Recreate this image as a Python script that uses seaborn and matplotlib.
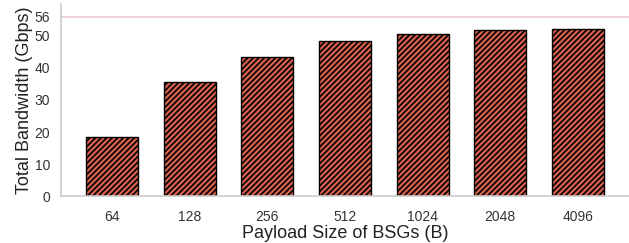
import pandas as pd
import matplotlib.pyplot as plt
import seaborn as sns

# Bandwidth per payload size
payload_sizes = ['64', '128', '256', '512', '1024', '2048', '4096']
bandwidth = [18.3, 35.5, 43.4, 48.3, 50.7, 51.9, 52.2]
line_rate = 56

df = pd.DataFrame({'size': payload_sizes, 'bw': bandwidth})

sns.set_style('white')
plt.rcParams['font.family'] = ['Liberation Sans', 'DejaVu Sans']
plt.rcParams['hatch.linewidth'] = 1.2

fig, ax = plt.subplots(figsize=(6.29, 2.43), dpi=100)
sns.barplot(ax=ax, data=df, x='size', y='bw', color='#d9604c', saturation=1,
            width=0.67, edgecolor='black', linewidth=1.0, hatch='//////')

ax.axhline(line_rate, color='#e8c8c8', linewidth=1.2, zorder=0)

ax.set_xlim(-0.66, 6.66)
ax.set_ylim(0, 60)
ax.set_yticks([0, 10, 20, 30, 40, 50, 56])
ax.set_xlabel('Payload Size of BSGs (B)', fontsize=13, color='#222222', labelpad=1)
ax.set_ylabel('Total Bandwidth (Gbps)', fontsize=13, color='#222222', labelpad=1)
ax.tick_params(axis='both', labelsize=10, colors='#333333', length=0)
ax.tick_params(axis='x', pad=10)
ax.tick_params(axis='y', pad=8)

sns.despine(ax=ax)
for side in ['left', 'bottom']:
    ax.spines[side].set_color('#cccccc')
    ax.spines[side].set_linewidth(1.2)

fig.subplots_adjust(left=0.097, right=1.0, top=0.984, bottom=0.193)
plt.savefig('out.png', dpi=100)
